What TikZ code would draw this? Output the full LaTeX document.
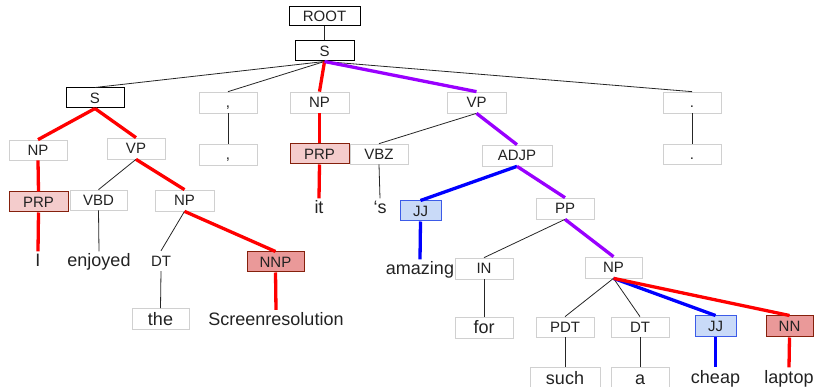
\documentclass[tikz,border=0pt]{standalone}
\usepackage{fontspec}
\setmainfont{Liberation Sans}
\definecolor{tred}{HTML}{FF0000}
\definecolor{tpurple}{HTML}{9900FF}
\definecolor{tblue}{HTML}{0000FF}
\definecolor{pinkfill}{HTML}{F4CCCC}
\definecolor{redfill}{HTML}{EA9999}
\definecolor{darkred}{HTML}{85200C}
\definecolor{bluefill}{HTML}{C9DAF8}
\definecolor{blueedge}{HTML}{3C5BE8}
\definecolor{lgray}{HTML}{D0D0D0}
\definecolor{txt}{HTML}{222222}
\begin{document}
\begin{tikzpicture}[x=1pt,y=-1pt,
  lab/.style={font=\fontsize{15}{15}\selectfont, text=txt, inner sep=0pt, text height=10.8pt, text depth=0pt, minimum height=20pt},
  box/.style={lab, draw=lgray, line width=0.7pt, minimum width=#1},
  box/.default=58pt,
  blk/.style={lab, draw=black, line width=1pt, minimum width=#1},
  prp/.style={lab, draw=darkred, fill=pinkfill, line width=1pt, minimum width=#1},
  nnp/.style={lab, draw=darkred, fill=redfill, line width=1pt, minimum width=#1},
  jj/.style={lab, draw=blueedge, fill=bluefill, line width=1pt, minimum width=#1},
  word/.style={font=\fontsize{18}{18}\selectfont, text=txt, inner sep=0.5pt, text height=15pt, text depth=4pt},
  wordbox/.style={font=\fontsize{18}{18}\selectfont, text=txt, inner sep=0pt, text height=13pt, text depth=0pt, minimum height=21pt, draw=lgray, line width=0.7pt, minimum width=#1},
  thin/.style={draw=black!85, line width=0.8pt},
  rd/.style={draw=tred, line width=3.3pt},
  pu/.style={draw=tpurple, line width=3.3pt},
  bl/.style={draw=tblue, line width=3.3pt}
]
\useasboundingbox (0,0) rectangle (814,387);
% nodes
\node[blk=71pt, minimum height=19pt] (root) at (324.5,16.5) {ROOT};
\node[blk=59pt] (s) at (324.5,51) {S};
\node[blk=58pt] (sl) at (95,98) {S};
\node[box=58pt, minimum height=21pt] (c1) at (228,102.5) {,};
\node[box=58pt, minimum height=21pt] (c2) at (228,154.5) {,};
\node[box=59pt, minimum height=21pt] (np1) at (319.5,102.5) {NP};
\node[box=59pt, minimum height=21pt] (vp1) at (476.5,102.5) {VP};
\node[box=58pt, minimum height=21pt] (p1) at (692,102.5) {.};
\node[box=58pt] (p2) at (692,154) {.};
\node[box=58pt] (npl) at (38,150) {NP};
\node[box=58pt, minimum height=21pt] (vpl) at (136,148.5) {VP};
\node[prp=59pt] (prpl) at (38.5,202) {PRP};
\node[box=57pt] (vbd) at (98.5,200) {VBD};
\node[box=59pt, minimum height=21pt] (npl2) at (184.5,200.5) {NP};
\node[word] (wI) at (38,261.5) {I};
\node[word] (wenj) at (99,261.5) {enjoyed};
\node[lab, minimum width=40pt] (dtl) at (161,261) {DT};
\node[nnp=57pt] (nnp) at (275.5,262) {NNP};
\node[wordbox=57pt] (wthe) at (160.5,319) {the};
\node[word] (wscr) at (276,320) {Screenresolution};
\node[prp=59pt] (prpm) at (319.5,154) {PRP};
\node[box=58pt] (vbz) at (379,154) {VBZ};
\node[word] (wit) at (319,208.5) {it};
\node[word] (ws) at (380,208.5) {‘s};
\node[box=70pt, minimum height=21pt] (adjp) at (517,155.5) {ADJP};
\node[jj=41pt] (jj1) at (420.5,211) {JJ};
\node[box=58pt, minimum height=21pt] (pp) at (565,208.5) {PP};
\node[word] (wam) at (420,269.5) {amazing};
\node[box=58pt, minimum height=21pt] (in) at (484,268.5) {IN};
\node[box=57pt, minimum height=21pt] (np3) at (613.5,267.5) {NP};
\node[wordbox=58pt] (wfor) at (484,327.5) {for};
\node[box=58pt] (pdt) at (565,327) {PDT};
\node[box=58pt] (dt2) at (640,327) {DT};
\node[jj=41pt, minimum height=21pt] (jj2) at (715.5,326.5) {JJ};
\node[nnp=47pt, minimum height=21pt] (nn) at (789.5,326.5) {NN};
\node[wordbox=70pt] (wsuch) at (565,377.5) {such};
\node[wordbox=58pt] (wa) at (640,377.5) {a};
\node[word] (wcheap) at (715.5,377.5) {cheap};
\node[word] (wlaptop) at (789,377.5) {laptop};
% edges
\draw[thin] (root.south) -- (s.north);
\draw[thin] (s.south) -- (sl.north);
\draw[thin] (s.south) -- (c1.north);
\draw[thin] (s.south) -- (p1.north);
\draw[rd] (s.south) -- (np1.north);
\draw[pu] (s.south) -- (vp1.north);
\draw[rd] (sl.south) -- (npl.north);
\draw[rd] (sl.south) -- (vpl.north);
\draw[rd] (npl.south) -- (prpl.north);
\draw[rd] (prpl.south) -- (wI.north);
\draw[thin] (vpl.south) -- (vbd.north);
\draw[rd] (vpl.south) -- (npl2.north);
\draw[thin] (vbd.south) -- (wenj.north);
\draw[thin] (npl2.south) -- (dtl.north);
\draw[rd] (npl2.south) -- (nnp.north);
\draw[thin] (dtl.south) -- (wthe.north);
\draw[rd] (nnp.south) -- (wscr.north);
\draw[thin] (c1.south) -- (c2.north);
\draw[rd] (np1.south) -- (prpm.north);
\draw[rd] (prpm.south) -- (wit.north);
\draw[thin] (vp1.south) -- (vbz.north);
\draw[pu] (vp1.south) -- (adjp.north);
\draw[thin] (vbz.south) -- (ws.north);
\draw[bl] (adjp.south) -- (jj1.north);
\draw[pu] (adjp.south) -- (pp.north);
\draw[bl] (jj1.south) -- (wam.north);
\draw[thin] (pp.south) -- (in.north);
\draw[pu] (pp.south) -- (np3.north);
\draw[thin] (in.south) -- (wfor.north);
\draw[thin] (np3.south) -- (pdt.north);
\draw[thin] (np3.south) -- (dt2.north);
\draw[bl] (np3.south) -- (jj2.north);
\draw[rd] (np3.south) -- (nn.north);
\draw[thin] (pdt.south) -- (wsuch.north);
\draw[thin] (dt2.south) -- (wa.north);
\draw[bl] (jj2.south) -- (wcheap.north);
\draw[rd] (nn.south) -- (wlaptop.north);
\draw[thin] (p1.south) -- (p2.north);
\end{tikzpicture}
\end{document}
